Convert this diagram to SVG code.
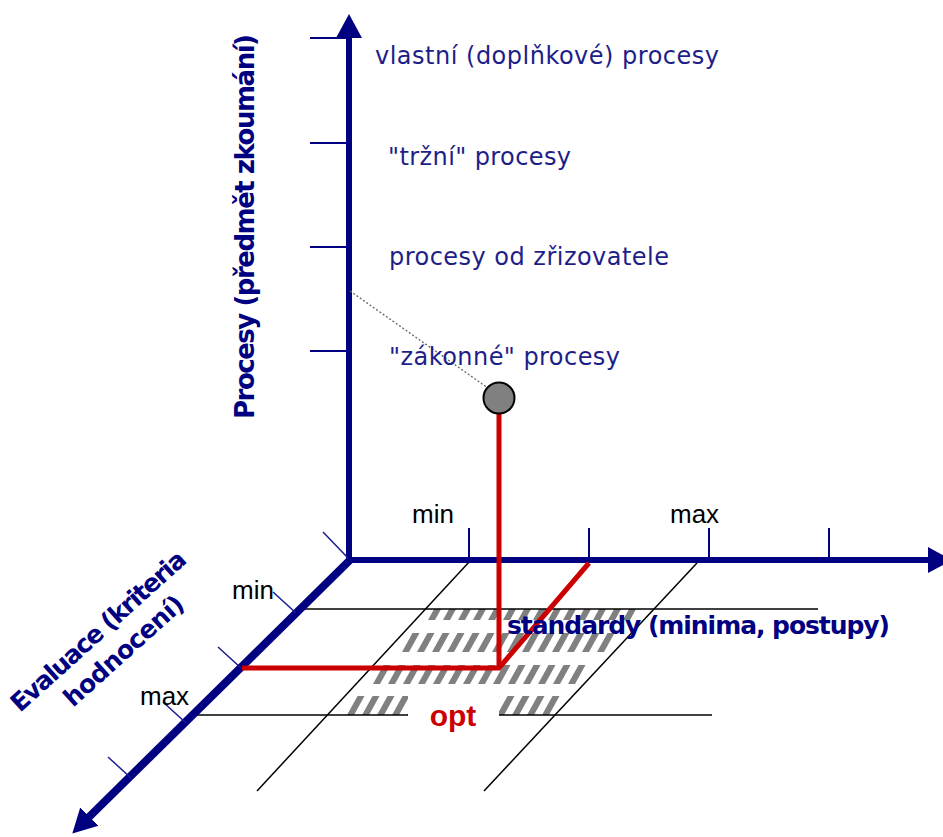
<svg xmlns="http://www.w3.org/2000/svg" width="943" height="837" viewBox="0 0 943 837">
<defs>
<style>
.axis{stroke:#000080;fill:none;stroke-linecap:butt}
.tick{stroke:#000080;stroke-width:2;fill:none}
.dtick{stroke:#1a1a90;stroke-width:1.5;fill:none}
.grid{stroke:#000;stroke-width:1.5;fill:none}
.hatch{stroke:#808080;stroke-dasharray:7 8;fill:none}
.red{stroke:#cc0000;stroke-width:5;fill:none;stroke-linejoin:miter}
.lbl{font-family:"DejaVu Sans",Verdana,sans-serif;font-size:24px;fill:#1e1e88}
.bold{font-family:"DejaVu Sans",Verdana,sans-serif;font-weight:bold;fill:#000080}
.mm{font-family:"Liberation Sans",Arial,sans-serif;font-size:26px;fill:#000}
</style>
<marker id="ah" markerUnits="userSpaceOnUse" markerWidth="30" markerHeight="30" refX="2" refY="13" orient="auto" viewBox="0 0 30 26">
<path d="M0,0 L24,13 L0,26 z" fill="#000080"/>
</marker>
</defs>
<rect width="943" height="837" fill="#fff"/>

<g id="hatch">
<g transform="translate(428,620) skewX(-29)"><line class="hatch" x1="0" y1="-5.5" x2="202" y2="-5.5" stroke-width="11"/></g>
<g transform="translate(402,652) skewX(-29)"><line class="hatch" x1="0" y1="-9.5" x2="202" y2="-9.5" stroke-width="19"/></g>
<g transform="translate(373,684) skewX(-29)"><line class="hatch" x1="0" y1="-9.5" x2="202" y2="-9.5" stroke-width="19"/></g>
<g transform="translate(347,715) skewX(-29)"><line class="hatch" x1="0" y1="-9.5" x2="202" y2="-9.5" stroke-width="19"/></g>
</g>

<g id="grid">
<line class="grid" x1="300" y1="609" x2="818" y2="609"/>
<line class="grid" x1="195" y1="715" x2="712" y2="715"/>
<line class="grid" x1="470" y1="561" x2="257" y2="791"/>
<line class="grid" x1="697" y1="563" x2="484" y2="791"/>
</g>

<g id="opt">
<rect x="408" y="690" width="91" height="52" fill="#fff"/>
<text x="453" y="726" text-anchor="middle" font-family="Liberation Sans, Arial, sans-serif" font-weight="bold" font-size="30" fill="#cc0000">opt</text>
</g>

<g id="connectors">
<line class="axis" x1="349" y1="560" x2="349" y2="36" stroke-width="6" marker-end="url(#ah)"/>
<line class="axis" x1="346" y1="560" x2="930" y2="560" stroke-width="6" marker-end="url(#ah)"/>
<line class="axis" x1="350" y1="560" x2="88" y2="818" stroke-width="8" marker-end="url(#ah)"/>
<line x1="350" y1="291" x2="488" y2="388" stroke="#666" stroke-width="1.3" stroke-dasharray="2 2"/>
<line class="red" x1="499" y1="414" x2="499" y2="668"/>
<polyline class="red" points="242,668 499,668 589,563"/>
</g>

<g id="ticks">
<line class="tick" x1="310" y1="38" x2="349" y2="38"/>
<line class="tick" x1="310" y1="143" x2="349" y2="143"/>
<line class="tick" x1="310" y1="247" x2="349" y2="247"/>
<line class="tick" x1="310" y1="351" x2="349" y2="351"/>
<line class="tick" x1="469" y1="528" x2="469" y2="560"/>
<line class="tick" x1="589" y1="528" x2="589" y2="560"/>
<line class="tick" x1="709" y1="528" x2="709" y2="560"/>
<line class="tick" x1="829" y1="528" x2="829" y2="560"/>
<line class="dtick" x1="323" y1="532" x2="348" y2="558"/>
<line class="dtick" x1="273" y1="592" x2="296" y2="613"/>
<line class="dtick" x1="218" y1="647" x2="241" y2="668"/>
<line class="dtick" x1="163" y1="702" x2="186" y2="723"/>
<line class="dtick" x1="108" y1="757" x2="131" y2="778"/>
</g>

<g id="point">
<circle cx="499" cy="398" r="15.5" fill="#808080" stroke="#000" stroke-width="2"/>
</g>

<g id="labels-procesy">
<text class="lbl" x="375" y="64" textLength="344">vlastní (doplňkové) procesy</text>
<text class="lbl" x="388" y="165" textLength="183">"tržní" procesy</text>
<text class="lbl" x="389" y="265" textLength="280">procesy od zřizovatele</text>
<text class="lbl" x="389" y="365" textLength="231">"zákonné" procesy</text>
</g>

<g id="axis-titles">
<text class="bold" font-size="26" transform="translate(254,419) rotate(-90)" textLength="385">Procesy (předmět zkoumání)</text>
<text class="bold" font-size="25" x="507" y="634" textLength="383">standardy (minima, postupy)</text>
<text class="bold" font-size="25" transform="translate(20,713) rotate(-42)" textLength="226">Evaluace (kriteria</text>
<text class="bold" font-size="25" transform="translate(73,708) rotate(-42)" textLength="152">hodnocení)</text>
</g>

<g id="minmax">
<text class="mm" x="412" y="523">min</text>
<text class="mm" x="670" y="523">max</text>
<text class="mm" x="232" y="599">min</text>
<text class="mm" x="140" y="705">max</text>
</g>
</svg>
